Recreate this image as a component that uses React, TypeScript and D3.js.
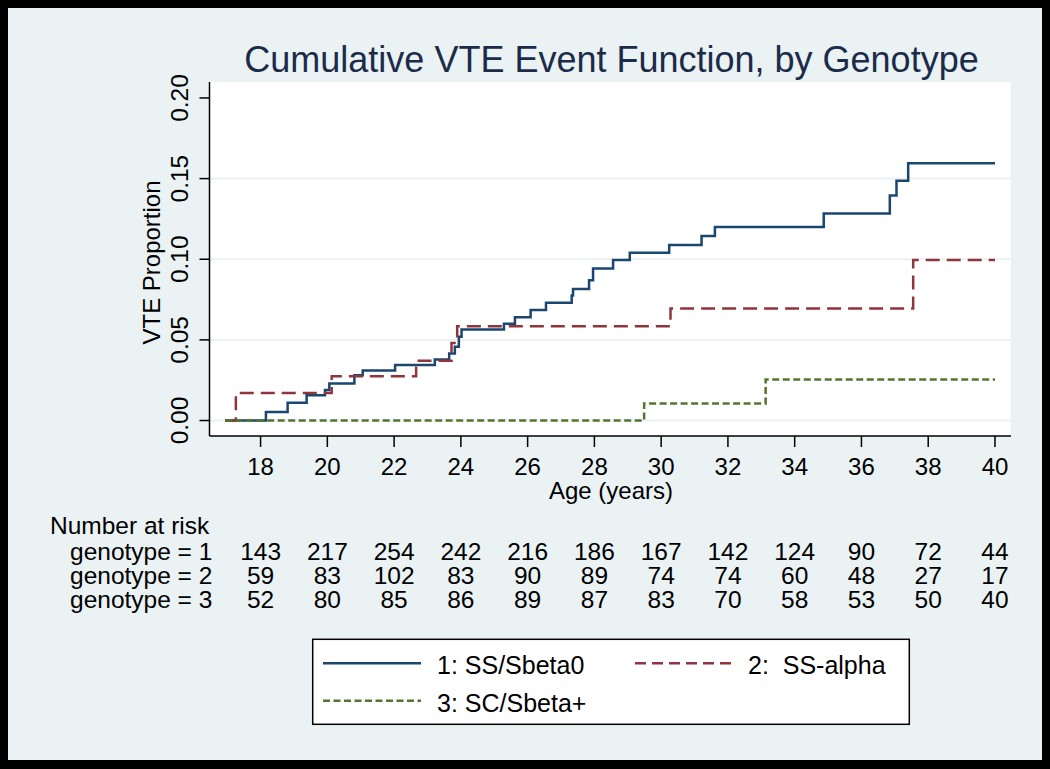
import React from "react";
import * as d3 from "d3";

// ---- Data ----
const startAge = 16.94;
const endAge = 40;

const g1Times = [18.16, 18.81, 19.38, 19.93, 20.06, 20.81, 21.06, 22.03, 23.22, 23.65, 23.82, 23.94, 24.02, 25.29, 25.62, 26.09, 26.55, 27.32, 27.36, 27.84, 27.96, 28.56, 29.06, 30.24, 31.21, 31.61, 34.87, 36.85, 37.05, 37.4];
const g1Values = [0.0053, 0.011, 0.0157, 0.019, 0.023, 0.028, 0.031, 0.0345, 0.0378, 0.0416, 0.0457, 0.052, 0.0565, 0.06, 0.064, 0.0685, 0.073, 0.0775, 0.0815, 0.087, 0.0943, 0.0995, 0.104, 0.1088, 0.1144, 0.12, 0.1283, 0.1395, 0.1487, 0.1595];

const g2Times = [17.26, 20.13, 22.66, 23.72, 23.89, 30.28, 37.55];
const g2Values = [0.017, 0.0275, 0.037, 0.048, 0.0585, 0.0695, 0.0995];

const g3Times = [29.49, 33.13];
const g3Values = [0.0106, 0.0254];

const xTicks = [18, 20, 22, 24, 26, 28, 30, 32, 34, 36, 38, 40];
const yTicks = [0, 0.05, 0.1, 0.15, 0.2];

const riskLabels = ["genotype = 1", "genotype = 2", "genotype = 3"];
const risk1 = [143, 217, 254, 242, 216, 186, 167, 142, 124, 90, 72, 44];
const risk2 = [59, 83, 102, 83, 90, 89, 74, 74, 60, 48, 27, 17];
const risk3 = [52, 80, 85, 86, 89, 87, 83, 70, 58, 53, 50, 40];

const seriesNames = ["1: SS/Sbeta0", "2:  SS-alpha", "3: SC/Sbeta+"];
const seriesColors = ["#1a476f", "#90353b", "#55752f"];
const seriesDash = ["none", "14 7", "7 3.5"];

const FONT = "'Liberation Sans', Arial, Helvetica, sans-serif";

function buildSteps(times: number[], values: number[]): [number, number][] {
  const pts: [number, number][] = [[startAge, 0]];
  times.forEach((t, i) => pts.push([t, values[i]]));
  pts.push([endAge, values[values.length - 1]]);
  return pts;
}

export default function App() {
  const W = 1050;
  const H = 769;
  const plot = { left: 209.5, right: 1011, top: 82, bottom: 436 };

  const x = d3.scaleLinear().domain([16.47, 40.48]).range([plot.left, plot.right]);
  const y = d3.scaleLinear().domain([-0.0096, 0.2099]).range([plot.bottom, plot.top]);

  const line = d3
    .line<[number, number]>()
    .x((d) => x(d[0]))
    .y((d) => y(d[1]))
    .curve(d3.curveStepAfter);

  const series = [
    buildSteps(g1Times, g1Values),
    buildSteps(g2Times, g2Values),
    buildSteps(g3Times, g3Values),
  ];
  const risks = [risk1, risk2, risk3];
  const riskY = [560, 584, 608];

  return (
    <svg
      width={W}
      height={H}
      style={{ position: "absolute", left: 0, top: 0 }}
      fontFamily={FONT}
    >
      <rect x={0} y={0} width={W} height={H} fill="#000" />
      <rect x={8} y={8} width={1034} height={752} fill="#eaf2f3" />

      {/* title */}
      <text x={611.5} y={72} fontSize={36} fill="#1c2b4a" textAnchor="middle">
        Cumulative VTE Event Function, by Genotype
      </text>

      {/* plot region */}
      <rect
        x={plot.left}
        y={plot.top}
        width={plot.right - plot.left}
        height={plot.bottom - plot.top}
        fill="#ffffff"
      />
      {yTicks.slice(0, 4).map((t) => (
        <line
          key={"g" + t}
          x1={plot.left}
          x2={plot.right}
          y1={y(t)}
          y2={y(t)}
          stroke="#eaf2f3"
          strokeWidth={2}
        />
      ))}

      {/* series */}
      {series.map((s, i) => (
        <path
          key={"s" + i}
          d={line(s) || ""}
          fill="none"
          stroke={seriesColors[i]}
          strokeWidth={2.5}
          strokeDasharray={seriesDash[i]}
        />
      ))}

      {/* axes */}
      <line x1={plot.left} x2={plot.left} y1={plot.top} y2={plot.bottom} stroke="#000" strokeWidth={1.5} />
      <line x1={plot.left} x2={plot.right} y1={plot.bottom} y2={plot.bottom} stroke="#000" strokeWidth={1.5} />

      {yTicks.map((t) => (
        <g key={"yt" + t}>
          <line x1={plot.left - 10} x2={plot.left} y1={y(t)} y2={y(t)} stroke="#000" strokeWidth={1.5} />
          <text
            transform={`translate(188,${y(t)}) rotate(-90)`}
            fontSize={24.5}
            textAnchor="middle"
            fill="#000"
          >
            {t.toFixed(2)}
          </text>
        </g>
      ))}
      <text transform={`translate(159.5,262.5) rotate(-90)`} fontSize={24} textAnchor="middle" fill="#000">
        VTE Proportion
      </text>

      {xTicks.map((t) => (
        <g key={"xt" + t}>
          <line x1={x(t)} x2={x(t)} y1={plot.bottom} y2={plot.bottom + 11} stroke="#000" strokeWidth={1.5} />
          <text x={x(t)} y={475} fontSize={24} textAnchor="middle" fill="#000">
            {t}
          </text>
        </g>
      ))}
      <text x={611} y={499} fontSize={24} textAnchor="middle" fill="#000">
        Age (years)
      </text>

      {/* number at risk */}
      <text x={50} y={534} fontSize={24.5} fill="#000">
        Number at risk
      </text>
      {riskLabels.map((lab, r) => (
        <g key={"r" + r}>
          <text x={70} y={riskY[r]} fontSize={24.5} fill="#000">
            {lab}
          </text>
          {risks[r].map((v, j) => (
            <text key={j} x={x(xTicks[j])} y={riskY[r]} fontSize={24.5} textAnchor="middle" fill="#000">
              {v}
            </text>
          ))}
        </g>
      ))}

      {/* legend */}
      <rect x={312.7} y={639.3} width={596.6} height={85} fill="#fff" stroke="#000" strokeWidth={1.5} />
      {[
        { i: 0, x0: 323, y0: 663.3, tx: 437, ty: 674 },
        { i: 1, x0: 635, y0: 663.3, tx: 748, ty: 674 },
        { i: 2, x0: 323, y0: 700.7, tx: 437, ty: 711.7 },
      ].map((it) => (
        <g key={"l" + it.i}>
          <line
            x1={it.x0}
            x2={it.x0 + 98}
            y1={it.y0}
            y2={it.y0}
            stroke={seriesColors[it.i]}
            strokeWidth={2.5}
            strokeDasharray={it.i === 1 ? "11 6" : seriesDash[it.i]}
          />
          <text x={it.tx} y={it.ty} fontSize={25} fill="#000" style={{ whiteSpace: "pre" }}>
            {seriesNames[it.i]}
          </text>
        </g>
      ))}
    </svg>
  );
}
